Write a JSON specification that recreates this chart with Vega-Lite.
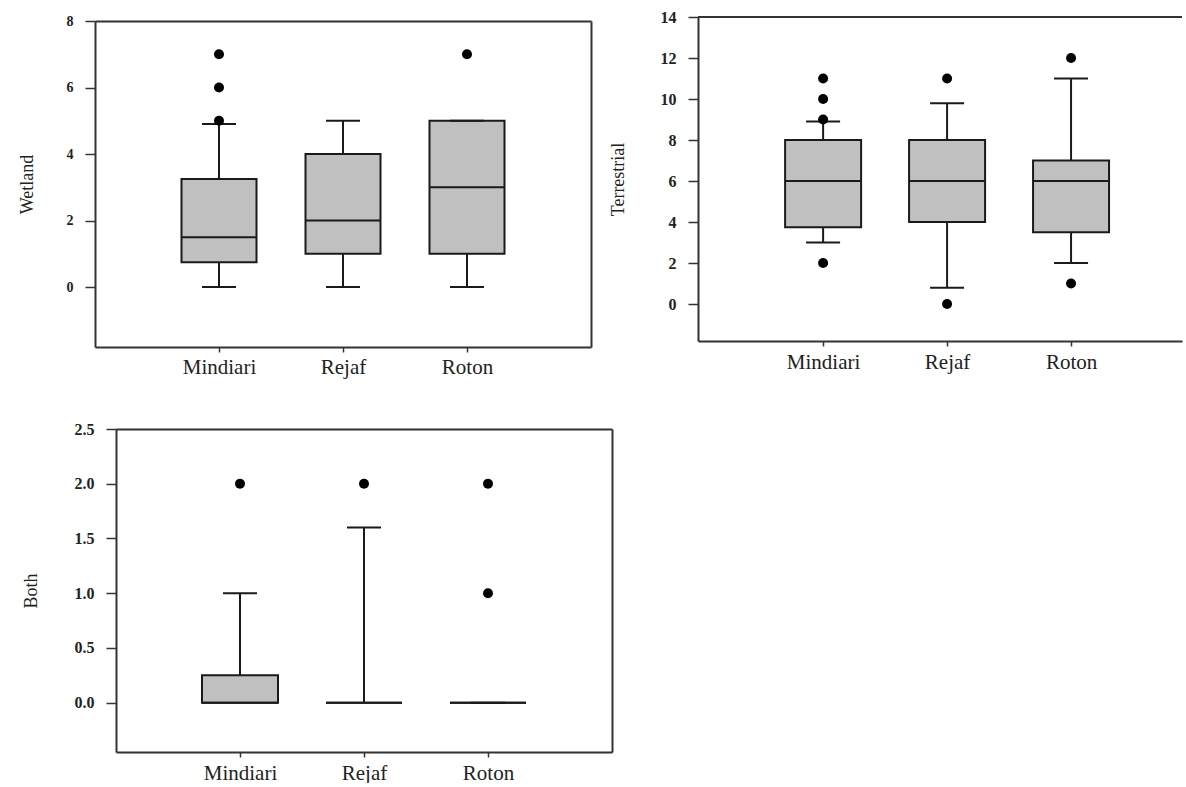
{
  "$schema": "https://vega.github.io/schema/vega-lite/v6.json",
  "padding": {"left": 18, "top": 9, "right": 0, "bottom": 0},
  "background": "white",
  "config": {
    "font": "Liberation Serif",
    "view": {"stroke": "#333333", "strokeWidth": 2},
    "axis": {
      "grid": false,
      "domainColor": "#333333",
      "domainWidth": 2,
      "tickColor": "#333333",
      "tickWidth": 1.5,
      "labelFont": "Liberation Serif",
      "titleFont": "Liberation Serif",
      "labelColor": "#222222",
      "titleColor": "#222222",
      "titleFontWeight": "normal"
    }
  },
  "datasets": {
    "wet_stats": [
      {"site": "Mindiari", "lower": 0, "q1": 0.75, "median": 1.5, "q3": 3.25, "upper": 4.9},
      {"site": "Rejaf", "lower": 0, "q1": 1, "median": 2, "q3": 4, "upper": 5},
      {"site": "Roton", "lower": 0, "q1": 1, "median": 3, "q3": 5, "upper": 5}
    ],
    "wet_out": [
      {"site": "Mindiari", "value": 5},
      {"site": "Mindiari", "value": 6},
      {"site": "Mindiari", "value": 7},
      {"site": "Roton", "value": 7}
    ],
    "terr_stats": [
      {"site": "Mindiari", "lower": 3, "q1": 3.75, "median": 6, "q3": 8, "upper": 8.9},
      {"site": "Rejaf", "lower": 0.8, "q1": 4, "median": 6, "q3": 8, "upper": 9.8},
      {"site": "Roton", "lower": 2, "q1": 3.5, "median": 6, "q3": 7, "upper": 11}
    ],
    "terr_out": [
      {"site": "Mindiari", "value": 2},
      {"site": "Mindiari", "value": 9},
      {"site": "Mindiari", "value": 10},
      {"site": "Mindiari", "value": 11},
      {"site": "Rejaf", "value": 0},
      {"site": "Rejaf", "value": 11},
      {"site": "Roton", "value": 1},
      {"site": "Roton", "value": 12}
    ],
    "both_stats": [
      {"site": "Mindiari", "lower": 0, "q1": 0, "median": 0, "q3": 0.25, "upper": 1},
      {"site": "Rejaf", "lower": 0, "q1": 0, "median": 0, "q3": 0, "upper": 1.6},
      {"site": "Roton", "lower": 0, "q1": 0, "median": 0, "q3": 0, "upper": 0}
    ],
    "both_out": [
      {"site": "Mindiari", "value": 2},
      {"site": "Rejaf", "value": 2},
      {"site": "Roton", "value": 1},
      {"site": "Roton", "value": 2}
    ]
  },
  "spacing": 44,
  "vconcat": [
    {
      "spacing": 18,
      "hconcat": [
        {
          "width": 496,
          "height": 330,
          "view": {"stroke": null},
          "resolve": {"axis": {"x": "independent", "y": "independent"}},
          "layer": [
            {
              "layer": [
                {
                  "data": {"name": "wet_stats"},
                  "mark": {"type": "rule", "color": "#1a1a1a", "strokeWidth": 2},
                  "encoding": {
                    "x": {"field": "site", "type": "nominal", "sort": ["Mindiari", "Rejaf", "Roton"], "scale": {"type": "point", "padding": 1}, "axis": {"title": null, "labelAngle": 0, "tickSize": 5, "labelPadding": 4, "labelFontSize": 21}},
                    "y": {"field": "lower", "type": "quantitative", "title": "Wetland", "scale": {"domain": [-1.8, 8], "nice": false, "zero": false, "range": [330, 4]}, "axis": {"values": [0, 2, 4, 6, 8], "tickSize": 10, "labelPadding": 12, "labelFontSize": 14, "labelFontWeight": "bold", "titleFontSize": 18, "titleX": -59}},
                    "y2": {"field": "upper"}
                  }
                },
                {
                  "data": {"name": "wet_stats"},
                  "mark": {"type": "bar", "size": 75, "fill": "#c0c0c0", "stroke": "#1a1a1a", "strokeWidth": 2},
                  "encoding": {
                    "x": {"field": "site", "type": "nominal", "sort": ["Mindiari", "Rejaf", "Roton"]},
                    "y": {"field": "q1", "type": "quantitative", "title": "Wetland"},
                    "y2": {"field": "q3"}
                  }
                },
                {
                  "data": {"name": "wet_stats"},
                  "mark": {"type": "tick", "size": 34, "thickness": 2, "color": "#1a1a1a", "opacity": 1},
                  "encoding": {
                    "x": {"field": "site", "type": "nominal", "sort": ["Mindiari", "Rejaf", "Roton"]},
                    "y": {"field": "lower", "type": "quantitative", "title": "Wetland"}
                  }
                },
                {
                  "data": {"name": "wet_stats"},
                  "mark": {"type": "tick", "size": 34, "thickness": 2, "color": "#1a1a1a", "opacity": 1},
                  "encoding": {
                    "x": {"field": "site", "type": "nominal", "sort": ["Mindiari", "Rejaf", "Roton"]},
                    "y": {"field": "upper", "type": "quantitative", "title": "Wetland"}
                  }
                },
                {
                  "data": {"name": "wet_out"},
                  "mark": {"type": "circle", "size": 100, "color": "#000000", "opacity": 1},
                  "encoding": {
                    "x": {"field": "site", "type": "nominal", "sort": ["Mindiari", "Rejaf", "Roton"]},
                    "y": {"field": "value", "type": "quantitative", "title": "Wetland"}
                  }
                }
              ]
            },
            {
              "data": {"name": "wet_stats"},
              "mark": {"type": "tick", "size": 75, "thickness": 2, "color": "#1a1a1a", "opacity": 1},
              "encoding": {
                "x": {"field": "site", "type": "nominal", "sort": ["Mindiari", "Rejaf", "Roton"], "axis": {"orient": "top", "labels": false, "ticks": false, "title": null, "offset": -4}},
                "y": {"field": "median", "type": "quantitative", "axis": {"orient": "right", "labels": false, "ticks": false, "title": null}}
              }
            }
          ]
        },
        {
          "width": 484,
          "height": 324,
          "view": {"stroke": null},
          "layer": [
            {
              "data": {"name": "terr_stats"},
              "mark": {"type": "rule", "color": "#1a1a1a", "strokeWidth": 2},
              "encoding": {
                "x": {"field": "site", "type": "nominal", "sort": ["Mindiari", "Rejaf", "Roton"], "scale": {"type": "point", "padding": 0.952, "align": 0.53}, "axis": {"title": null, "labelAngle": 0, "tickSize": 5, "labelPadding": 5, "labelFontSize": 21}},
                "y": {"field": "lower", "type": "quantitative", "title": "Terrestrial", "scale": {"domain": [-1.8, 14], "nice": false, "zero": false}, "axis": {"values": [0, 2, 4, 6, 8, 10, 12, 14], "tickSize": 10, "labelPadding": 12, "labelFontSize": 16, "labelFontWeight": "bold", "titleFontSize": 18, "titleX": -71}},
                "y2": {"field": "upper"}
              }
            },
            {
              "data": {"name": "terr_stats"},
              "mark": {"type": "bar", "size": 76, "fill": "#c0c0c0", "stroke": "#1a1a1a", "strokeWidth": 2},
              "encoding": {
                "x": {"field": "site", "type": "nominal", "sort": ["Mindiari", "Rejaf", "Roton"]},
                "y": {"field": "q1", "type": "quantitative", "title": "Terrestrial"},
                "y2": {"field": "q3"}
              }
            },
            {
              "data": {"name": "terr_stats"},
              "mark": {"type": "tick", "size": 76, "thickness": 2, "color": "#1a1a1a", "opacity": 1},
              "encoding": {
                "x": {"field": "site", "type": "nominal", "sort": ["Mindiari", "Rejaf", "Roton"]},
                "y": {"field": "median", "type": "quantitative", "title": "Terrestrial"}
              }
            },
            {
              "data": {"name": "terr_stats"},
              "mark": {"type": "tick", "size": 34, "thickness": 2, "color": "#1a1a1a", "opacity": 1},
              "encoding": {
                "x": {"field": "site", "type": "nominal", "sort": ["Mindiari", "Rejaf", "Roton"]},
                "y": {"field": "lower", "type": "quantitative", "title": "Terrestrial"}
              }
            },
            {
              "data": {"name": "terr_stats"},
              "mark": {"type": "tick", "size": 34, "thickness": 2, "color": "#1a1a1a", "opacity": 1},
              "encoding": {
                "x": {"field": "site", "type": "nominal", "sort": ["Mindiari", "Rejaf", "Roton"]},
                "y": {"field": "upper", "type": "quantitative", "title": "Terrestrial"}
              }
            },
            {
              "data": {"name": "terr_out"},
              "mark": {"type": "circle", "size": 100, "color": "#000000", "opacity": 1},
              "encoding": {
                "x": {"field": "site", "type": "nominal", "sort": ["Mindiari", "Rejaf", "Roton"]},
                "y": {"field": "value", "type": "quantitative", "title": "Terrestrial"}
              }
            },
            {
              "data": {"name": "terr_stats"},
              "mark": {"type": "rule", "color": "#333333", "strokeWidth": 2},
              "encoding": {
                "y": {"datum": 14, "type": "quantitative"}
              }
            }
          ]
        }
      ]
    },
    {
      "width": 517,
      "height": 323,
      "view": {"stroke": null},
      "resolve": {"axis": {"x": "independent", "y": "independent"}},
      "layer": [
        {
          "layer": [
            {
              "data": {"name": "both_stats"},
              "mark": {"type": "rule", "color": "#1a1a1a", "strokeWidth": 2},
              "encoding": {
                "x": {"field": "site", "type": "nominal", "sort": ["Mindiari", "Rejaf", "Roton"], "scale": {"type": "point", "padding": 1, "range": [21, 517]}, "axis": {"title": null, "labelAngle": 0, "tickSize": 5, "labelPadding": 5, "labelFontSize": 21}},
                "y": {"field": "lower", "type": "quantitative", "title": "Both", "scale": {"domain": [-0.45, 2.5], "nice": false, "zero": false}, "axis": {"values": [0, 0.5, 1, 1.5, 2, 2.5], "format": ".1f", "offset": -21, "tickSize": 10, "labelPadding": 12, "labelFontSize": 16, "labelFontWeight": "bold", "titleFontSize": 18, "titleX": -76}},
                "y2": {"field": "upper"}
              }
            },
            {
              "data": {"name": "both_stats"},
              "mark": {"type": "bar", "size": 76, "fill": "#c0c0c0", "stroke": "#1a1a1a", "strokeWidth": 2},
              "encoding": {
                "x": {"field": "site", "type": "nominal", "sort": ["Mindiari", "Rejaf", "Roton"]},
                "y": {"field": "q1", "type": "quantitative", "title": "Both"},
                "y2": {"field": "q3"}
              }
            },
            {
              "data": {"name": "both_stats"},
              "mark": {"type": "tick", "size": 34, "thickness": 2, "color": "#1a1a1a", "opacity": 1},
              "encoding": {
                "x": {"field": "site", "type": "nominal", "sort": ["Mindiari", "Rejaf", "Roton"]},
                "y": {"field": "upper", "type": "quantitative", "title": "Both"}
              }
            },
            {
              "data": {"name": "both_out"},
              "mark": {"type": "circle", "size": 100, "color": "#000000", "opacity": 1},
              "encoding": {
                "x": {"field": "site", "type": "nominal", "sort": ["Mindiari", "Rejaf", "Roton"]},
                "y": {"field": "value", "type": "quantitative", "title": "Both"}
              }
            }
          ]
        },
        {
          "data": {"name": "both_stats"},
          "mark": {"type": "tick", "size": 76, "thickness": 2, "color": "#1a1a1a", "opacity": 1},
          "encoding": {
            "x": {"field": "site", "type": "nominal", "sort": ["Mindiari", "Rejaf", "Roton"], "axis": {"orient": "top", "labels": false, "ticks": false, "title": null}},
            "y": {"field": "median", "type": "quantitative", "axis": {"orient": "right", "labels": false, "ticks": false, "title": null}}
          }
        }
      ]
    }
  ]
}
